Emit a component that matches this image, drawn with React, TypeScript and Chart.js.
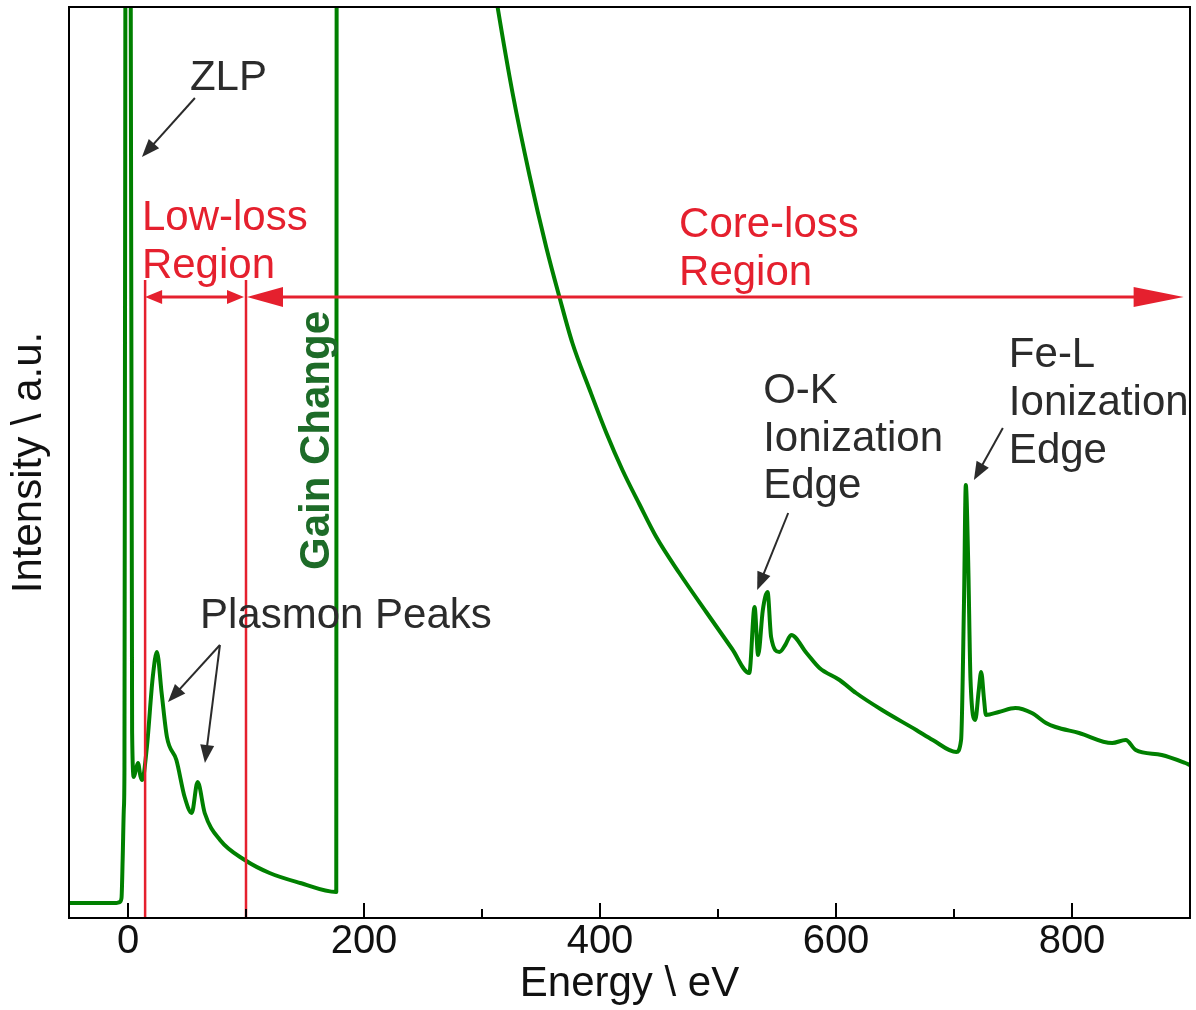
import React, { useEffect, useRef } from "react";
import { Chart, registerables } from "chart.js";

Chart.register(...registerables);

// ---- Spectrum data (Energy in eV, intensity in arbitrary units) ----
const energy = [
  -50, -20, -10, -7, -5.5, -4.5, -3.5, -3, -2, 0, 2, 3.5, 5, 7, 8.5, 10.5, 12, 16, 21, 24.5, 28.5, 33, 41, 48, 54,
  59, 65, 78, 99, 120, 146, 176.5, 177.5, 300, 313.2, 325.9, 340.2, 354.6, 365.6, 376.6, 391, 405.4, 419, 433.3,
  447.7, 467.2, 490, 512, 526.5, 531, 534, 538, 542, 545, 552, 557, 562, 575, 586, 603, 617, 639, 668, 682, 702,
  706, 708.5, 710, 712, 714, 718, 721, 723, 725.5, 727, 738, 752, 766, 778, 786, 806, 834, 845.5, 854, 876, 896, 900,
];
const intensity = [
  15, 15, 15, 16, 20, 60, 110, 150, 1200, 3000, 1200, 185, 141, 150, 155, 142, 138, 171, 241, 266, 225, 181, 158, 121,
  105, 136, 105, 78, 58, 45, 35, 26, 3000, 1010, 911, 825, 743, 670, 621, 575, 529, 485, 448, 414,
  381, 345, 306, 269, 245, 311, 263, 308, 326, 281, 266, 273, 283, 265, 250, 238, 225, 208, 188, 178, 166,
  178, 318, 433, 358, 238, 198, 228, 246, 218, 203, 206, 210, 205, 195, 191, 185, 175, 178, 168, 163, 155, 153,
];

// ---- Axes ----
const xMin = -50;
const xMax = 900;
const yMin = 0;
const yMax = 911;
const xMajorTicks = [0, 200, 400, 600, 800];
const xMinorTicks = [100, 300, 500, 700];
const xTitle = "Energy \\ eV";
const yTitle = "Intensity \\ a.u.";

// ---- Region markers ----
const regionBoundaries = [14.5, 100];
const regionLineTop = 638;
const regionArrowLevel = 621;
const coreArrowEnd = 894.6;

// ---- Black pointer arrows: [fromE, fromI, toE, toI] ----
const pointerArrows = [
  [56.7, 820, 11.8, 761], // ZLP
  [77.9, 273, 33.9, 216], // plasmon 1
  [77.9, 273, 65.2, 155], // plasmon 2
  [559.5, 405, 533.2, 328], // O-K
  [741.4, 490, 716.9, 438], // Fe-L
];

// ---- Text labels: [text, energy, intensity(baseline), colour key] ----
const textLabels: [string, number, number, string][] = [
  ["ZLP", 52.5, 828, "dark"],
  ["Low-loss", 11.8, 688, "red"],
  ["Region", 11.8, 640, "red"],
  ["Core-loss", 467, 681, "red"],
  ["Region", 467, 633, "red"],
  ["Plasmon Peaks", 61, 290, "dark"],
  ["O-K", 538.3, 515, "dark"],
  ["Ionization", 538.3, 467, "dark"],
  ["Edge", 538.3, 420, "dark"],
  ["Fe-L", 746.5, 551, "dark"],
  ["Ionization", 746.5, 503, "dark"],
  ["Edge", 746.5, 455, "dark"],
];
const gainLabel = "Gain Change";
const gainLabelE = 170;
const gainLabelI = 348;

const GREEN = "#008000";
const RED = "#e5202e";
const DARK = "#2b2b2b";
const GAIN_GREEN = "#1d6b28";
const FONT = '"Liberation Sans", Arial, Helvetica, sans-serif';

function arrowHead(ctx: CanvasRenderingContext2D, tx: number, ty: number, fx: number, fy: number, len: number, hw: number) {
  const a = Math.atan2(ty - fy, tx - fx);
  const bx = tx - len * Math.cos(a);
  const by = ty - len * Math.sin(a);
  ctx.beginPath();
  ctx.moveTo(tx, ty);
  ctx.lineTo(bx + hw * Math.sin(a), by - hw * Math.cos(a));
  ctx.lineTo(bx - hw * Math.sin(a), by + hw * Math.cos(a));
  ctx.closePath();
  ctx.fill();
}

const overlayPlugin = {
  id: "overlay",
  afterDatasetsDraw(chart: any) {
    const { ctx, scales } = chart;
    const xs = scales.x;
    const ys = scales.y;
    const X = (v: number) => xs.getPixelForValue(v);
    const Y = (v: number) => ys.getPixelForValue(v);
    ctx.save();

    // red vertical region lines
    ctx.strokeStyle = RED;
    ctx.fillStyle = RED;
    ctx.lineWidth = 2.5;
    for (const e of regionBoundaries) {
      ctx.beginPath();
      ctx.moveTo(X(e), Y(regionLineTop));
      ctx.lineTo(X(e), Y(yMin));
      ctx.stroke();
    }
    // low-loss double arrow
    const ay = Y(regionArrowLevel);
    const l0 = X(regionBoundaries[0]);
    const l1 = X(regionBoundaries[1]);
    ctx.lineWidth = 3;
    ctx.beginPath();
    ctx.moveTo(l0 + 8, ay);
    ctx.lineTo(l1 - 8, ay);
    ctx.stroke();
    arrowHead(ctx, l0, ay, l1, ay, 17, 7);
    arrowHead(ctx, l1 - 2, ay, l0, ay, 17, 7);
    // core-loss double arrow
    const c0 = X(regionBoundaries[1]) + 1;
    const c1 = X(coreArrowEnd);
    ctx.beginPath();
    ctx.moveTo(c0 + 20, ay);
    ctx.lineTo(c1 - 30, ay);
    ctx.stroke();
    arrowHead(ctx, c0, ay, c1, ay, 36, 10);
    arrowHead(ctx, c1, ay, c0, ay, 50, 10);

    // black pointer arrows
    ctx.strokeStyle = DARK;
    ctx.fillStyle = DARK;
    ctx.lineWidth = 2;
    for (const [fe, fi, te, ti] of pointerArrows) {
      const fx = X(fe), fy = Y(fi), tx = X(te), ty = Y(ti);
      const a = Math.atan2(ty - fy, tx - fx);
      ctx.beginPath();
      ctx.moveTo(fx, fy);
      ctx.lineTo(tx - 10 * Math.cos(a), ty - 10 * Math.sin(a));
      ctx.stroke();
      arrowHead(ctx, tx, ty, fx, fy, 18, 7);
    }

    // text labels
    ctx.font = `42px ${FONT}`;
    ctx.textAlign = "left";
    ctx.textBaseline = "alphabetic";
    for (const [t, e, i, c] of textLabels) {
      ctx.fillStyle = c === "red" ? RED : DARK;
      ctx.fillText(t, X(e), Y(i));
    }
    // rotated gain change label
    ctx.save();
    ctx.translate(X(gainLabelE), Y(gainLabelI));
    ctx.rotate(-Math.PI / 2);
    ctx.font = `bold 42px ${FONT}`;
    ctx.fillStyle = GAIN_GREEN;
    ctx.fillText(gainLabel, 0, 0);
    ctx.restore();

    ctx.restore();
  },
  afterDraw(chart: any) {
    const { ctx, chartArea: ca, scales } = chart;
    const xs = scales.x;
    ctx.save();
    ctx.strokeStyle = "#000";
    ctx.lineWidth = 2;
    ctx.strokeRect(ca.left, ca.top, ca.right - ca.left, ca.bottom - ca.top);
    ctx.beginPath();
    for (const v of xMajorTicks) {
      const px = Math.round(xs.getPixelForValue(v));
      ctx.moveTo(px, ca.bottom);
      ctx.lineTo(px, ca.bottom - 15);
    }
    for (const v of xMinorTicks) {
      const px = Math.round(xs.getPixelForValue(v));
      ctx.moveTo(px, ca.bottom);
      ctx.lineTo(px, ca.bottom - 9);
    }
    ctx.stroke();
    ctx.restore();
  },
};

export default function App() {
  const canvasRef = useRef<HTMLCanvasElement | null>(null);

  useEffect(() => {
    const canvas = canvasRef.current;
    if (!canvas) return;
    const points = energy.map((e, i) => ({ x: e, y: intensity[i] }));
    const chart = new Chart(canvas, {
      type: "line",
      data: {
        datasets: [
          {
            data: points,
            borderColor: GREEN,
            borderWidth: 4,
            pointRadius: 0,
            cubicInterpolationMode: "monotone",
            fill: false,
            borderJoinStyle: "round",
            borderCapStyle: "round",
          },
        ],
      },
      options: {
        animation: false,
        responsive: false,
        devicePixelRatio: 1,
        layout: { padding: { top: 7, right: 6, left: 0, bottom: 0 } },
        plugins: { legend: { display: false }, tooltip: { enabled: false } },
        scales: {
          x: {
            type: "linear",
            min: xMin,
            max: xMax,
            grid: { display: false, drawTicks: false },
            border: { display: false },
            ticks: {
              font: { family: FONT, size: 40 },
              color: "#111",
              padding: 0,
              maxRotation: 0,
              autoSkip: false,
              callback: (v: any) => String(v),
            },
            afterBuildTicks: (scale: any) => {
              scale.ticks = xMajorTicks.map((v) => ({ value: v }));
            },
            afterFit: (scale: any) => {
              scale.height = 92;
            },
            title: {
              display: true,
              text: xTitle,
              font: { family: FONT, size: 42 },
              color: "#111",
              padding: { top: 0, bottom: 0 },
            },
          },
          y: {
            type: "linear",
            min: yMin,
            max: yMax,
            grid: { display: false, drawTicks: false },
            border: { display: false },
            ticks: { display: false },
            afterFit: (scale: any) => {
              scale.width = 69;
            },
            title: {
              display: true,
              text: yTitle,
              font: { family: FONT, size: 42 },
              color: "#111",
              padding: { top: 4, bottom: 0 },
            },
          },
        },
      },
      plugins: [overlayPlugin],
    });
    return () => chart.destroy();
  }, []);

  return (
    <div style={{ position: "fixed", left: 0, top: 0, width: 1196, height: 1010, background: "#fff" }}>
      <canvas ref={canvasRef} width={1196} height={1010} style={{ width: 1196, height: 1010 }} />
    </div>
  );
}
